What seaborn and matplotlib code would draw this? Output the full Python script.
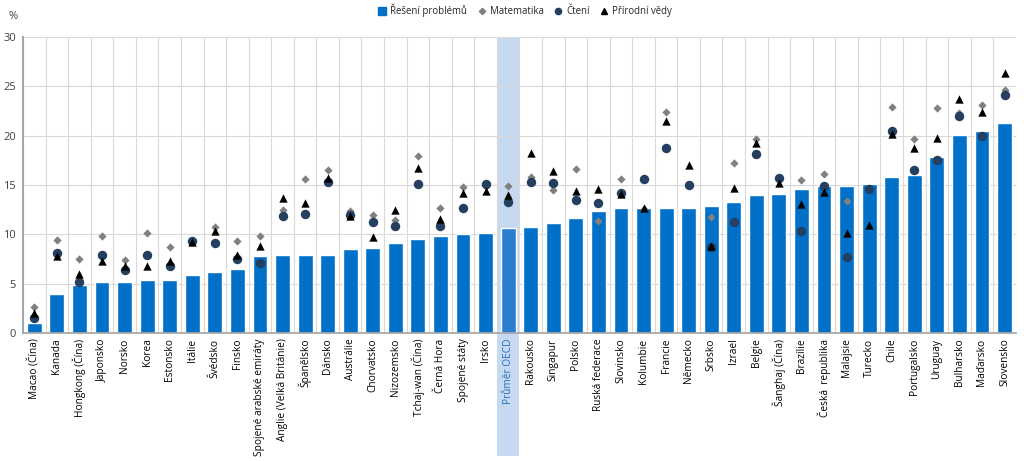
import numpy as np
import pandas as pd
import matplotlib
matplotlib.use("Agg")
import matplotlib.pyplot as plt
import matplotlib.transforms as mtransforms
from matplotlib.patches import Rectangle
from matplotlib.lines import Line2D
import seaborn as sns

categories = ["Macao (Čína)", "Kanada", "Hongkong (Čína)", "Japonsko", "Norsko", "Korea",
              "Estonsko", "Itálie", "Švédsko", "Finsko", "Spojené arabské emiráty",
              "Anglie (Velká Británie)", "Španělsko", "Dánsko", "Austrálie", "Chorvatsko",
              "Nizozemsko", "Tchaj-wan (Čína)", "Černá Hora", "Spojené státy", "Irsko",
              "Průměr OECD", "Rakousko", "Singapur", "Polsko", "Ruská federace", "Slovinsko",
              "Kolumbie", "Francie", "Německo", "Srbsko", "Izrael", "Belgie", "Šanghaj (Čína)",
              "Brazílie", "Česká  republika", "Malajsie", "Turecko", "Chile", "Portugalsko",
              "Uruguay", "Bulharsko", "Maďarsko", "Slovensko"]

reseni = [1.05, 4.0, 4.86, 5.2, 5.2, 5.4, 5.4, 5.9, 6.18, 6.52, 7.8, 7.87, 7.94, 7.94,
          8.5, 8.6, 9.12, 9.49, 9.83, 10.06, 10.13, 10.64, 10.71, 11.11, 11.62, 12.36,
          12.63, 12.63, 12.7, 12.7, 12.84, 13.24, 13.98, 14.05, 14.62, 14.86, 14.86,
          15.1, 15.84, 16.04, 17.8, 20.03, 20.5, 21.25]

matematika = [2.63, 9.42, 7.5, 9.83, 7.37, 10.1, 8.68, 9.3, 10.7, 9.35, 9.83, 12.43,
              15.64, 16.48, 12.36, 11.96, 11.48, 17.93, 12.7, 14.83, 14.9, 14.9, 15.77,
              14.46, 16.62, 11.38, 15.6, 12.6, 22.45, 15.0, 11.75, 17.19, 19.62, 15.6,
              15.53, 16.14, 13.4, 14.5, 22.9, 19.62, 22.8, 22.32, 23.1, 24.62]

cteni = [1.49, 8.14, 5.2, 7.87, 6.35, 7.87, 6.82, 9.32, 9.12, 7.53, 7.09, 11.85, 12.06,
         15.33, 11.96, 11.21, 10.81, 15.13, 10.87, 12.7, 15.1, 13.24, 15.33, 15.2, 13.44,
         13.17, 14.15, 15.6, 18.71, 15.0, 8.75, 11.25, 18.17, 15.7, 10.37, 14.9, 7.67,
         14.56, 20.43, 16.51, 17.53, 21.95, 20.0, 24.11]

prirodni_vedy = [2.0, 7.8, 6.0, 7.3, 6.82, 6.75, 7.3, 9.19, 10.33, 7.87, 8.85, 13.65,
                 13.17, 15.67, 11.89, 9.73, 12.46, 16.72, 11.52, 14.15, 14.42, 13.95, 18.2,
                 16.44, 14.42, 14.56, 14.05, 12.63, 21.45, 16.99, 8.82, 14.73, 19.22, 15.2,
                 13.1, 14.25, 10.16, 10.94, 20.16, 18.71, 19.79, 23.7, 22.36, 26.37]

oecd_label = "Průměr OECD"
bar_color = "#0070C8"
oecd_color = "#2A7ED2"
band_color = "#C6D9F0"
math_color = "#808080"
read_color = "#243F60"
sci_color = "#000000"

sns.set_theme(style="white")
plt.rcParams["font.family"] = ["Open Sans", "DejaVu Sans"]

df = pd.DataFrame({"zeme": categories, "reseni": reseni, "mat": matematika,
                   "cteni": cteni, "vedy": prirodni_vedy})

fig = plt.figure(figsize=(10.24, 4.61), dpi=100)
ax = fig.add_axes([0.0225, 0.2777, 0.9695, 0.642])

palette = {c: (oecd_color if c == oecd_label else bar_color) for c in categories}
sns.barplot(data=df, x="zeme", y="reseni", hue="zeme", palette=palette, legend=False,
            order=categories, width=0.66, saturation=1, ax=ax, zorder=2)

sns.stripplot(data=df, x="zeme", y="mat", order=categories, jitter=False, marker="D",
              color=math_color, size=4.2, linewidth=0, ax=ax, zorder=3)
sns.stripplot(data=df, x="zeme", y="cteni", order=categories, jitter=False, marker="o",
              color=read_color, size=6.8, linewidth=0, ax=ax, zorder=4)
sns.stripplot(data=df, x="zeme", y="vedy", order=categories, jitter=False, marker="^",
              color=sci_color, size=6.0, linewidth=0, ax=ax, zorder=5)

n = len(categories)
ax.set_xlim(-0.5, n - 0.5)
ax.set_ylim(0, 30)
ax.set_yticks(np.arange(0, 31, 5))
ax.set_xlabel("")
ax.set_ylabel("")

# OECD highlight band
oi = categories.index(oecd_label)
trans = mtransforms.blended_transform_factory(ax.transData, ax.transAxes)
ax.add_patch(Rectangle((oi - 0.5, -0.415), 1.0, 1.415, transform=trans,
                       facecolor=band_color, edgecolor="none", clip_on=False, zorder=0))

# grids
ax.set_xticks(np.arange(n))
ax.set_xticks(np.arange(n - 1) + 0.5, minor=True)
ax.grid(axis="y", color="#D9D9D9", linewidth=0.8, zorder=1)
ax.grid(axis="x", which="minor", color="#D9D9D9", linewidth=0.8, zorder=1)
ax.grid(axis="x", which="major", visible=False)
ax.set_axisbelow(True)
ax.patch.set_alpha(0)

for s in ["top", "right"]:
    ax.spines[s].set_visible(False)
ax.spines["left"].set_color("#A6A6A6")
ax.spines["bottom"].set_color("#A6A6A6")
ax.spines["left"].set_linewidth(1.5)

ax.tick_params(axis="x", which="both", length=0, pad=4, labelsize=7.3, colors="#000000")
ax.tick_params(axis="y", length=3, labelsize=8, colors="#404040", pad=2)
ax.set_xticklabels(categories, rotation=90)
for lbl in ax.get_xticklabels():
    if lbl.get_text() == oecd_label:
        lbl.set_color("#1F6FC0")

fig.text(0.008, 0.965, "%", fontsize=8, color="#404040", ha="left", va="center")

handles = [
    Line2D([], [], marker="s", linestyle="none", color=bar_color, markersize=5.5),
    Line2D([], [], marker="D", linestyle="none", color=math_color, markersize=3.2),
    Line2D([], [], marker="o", linestyle="none", color=read_color, markersize=4.5),
    Line2D([], [], marker="^", linestyle="none", color=sci_color, markersize=4.5),
]
labels = ["Řešení problémů", "Matematika", "Čtení", "Přírodní vědy"]
fig.legend(handles, labels, loc="center", bbox_to_anchor=(0.513, 0.977), ncol=4,
           frameon=False, fontsize=6.9, handletextpad=0.45, columnspacing=1.1,
           handlelength=0.8)

fig.savefig("out.png", dpi=100)
